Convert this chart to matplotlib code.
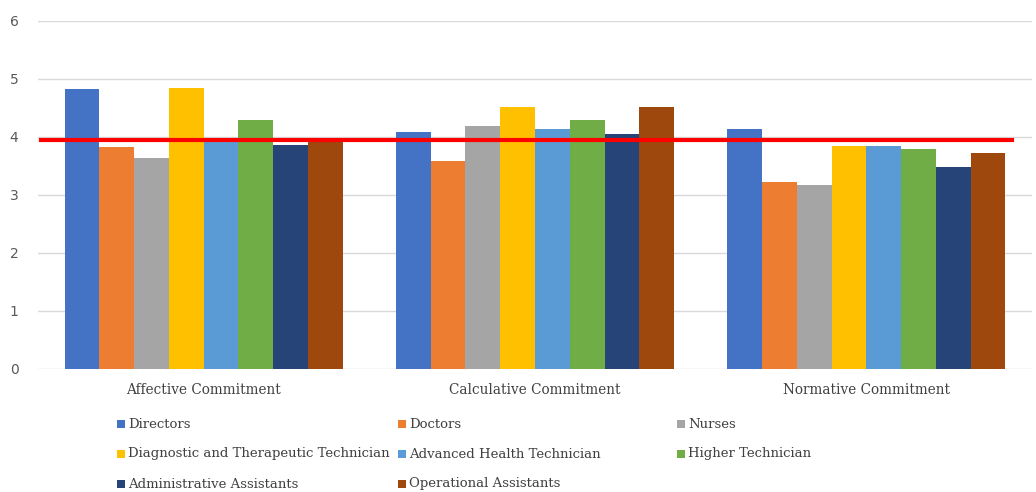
import matplotlib
matplotlib.use("Agg")
import matplotlib.pyplot as plt
from matplotlib.patches import Rectangle
import numpy as np

categories = ["Affective Commitment", "Calculative Commitment", "Normative Commitment"]
series = ["Directors", "Doctors", "Nurses", "Diagnostic and Therapeutic Technician",
          "Advanced Health Technician", "Higher Technician", "Administrative Assistants",
          "Operational Assistants"]
directors = [4.82, 4.08, 4.13]
doctors = [3.83, 3.59, 3.22]
nurses = [3.64, 4.19, 3.18]
diagnostic = [4.84, 4.52, 3.85]
advanced = [3.95, 4.14, 3.85]
higher = [4.29, 4.29, 3.79]
admin = [3.86, 4.05, 3.49]
operational = [3.98, 4.51, 3.72]
reference_value = 3.95
values = [directors, doctors, nurses, diagnostic, advanced, higher, admin, operational]
colors = ["#4472C4", "#ED7D31", "#A5A5A5", "#FFC000", "#5B9BD5", "#70AD47", "#264478", "#9E480E"]
yticks = [0, 1, 2, 3, 4, 5, 6]

fig = plt.figure(figsize=(10.36, 4.92), dpi=100)
ax = fig.add_axes([38/1036, 1-369/492, (1032-38)/1036, (369-21)/492])

x = np.arange(len(categories))
n = len(series)
bw = 0.84 / n
for i, (vals, c) in enumerate(zip(values, colors)):
    ax.bar(x - 0.42 + bw*(i+0.5), vals, width=bw, color=c, zorder=2, linewidth=0)

ax.set_xlim(-0.5, 2.5)
ax.set_ylim(0, 6)
ax.set_yticks(yticks)
ax.set_yticklabels([str(t) for t in yticks], color="#595959", fontsize=10, family="DejaVu Sans")
ax.yaxis.grid(True, color="#D9D9D9", linewidth=1, zorder=0)
ax.set_axisbelow(True)
ax.tick_params(axis="y", length=0, pad=14)
ax.tick_params(axis="x", length=0, pad=10)
ax.set_xticks(x)
ax.set_xticklabels(categories, fontsize=9.8, family="DejaVu Serif", color="#404040")
for s in ax.spines.values():
    s.set_visible(False)

# reference line
ax.plot([-0.49, 2.44], [reference_value, reference_value], color="#FF0000", linewidth=3, zorder=3)

# legend (row-major, 3 columns)
col_x = [121, 402, 681]
row_y = [424, 454, 484]
for i, (name, c) in enumerate(zip(series, colors)):
    r, cidx = divmod(i, 3)
    px, py = col_x[cidx], row_y[r]
    fig.patches.append(Rectangle(((px-4)/1036, 1-(py+4)/492), 8/1036, 8/492,
                                 transform=fig.transFigure, facecolor=c, edgecolor="none"))
    fig.text((px+7)/1036, 1-py/492, name, fontsize=9.5, family="DejaVu Serif",
             color="#404040", va="center", ha="left")

fig.savefig("out.png", dpi=100)
